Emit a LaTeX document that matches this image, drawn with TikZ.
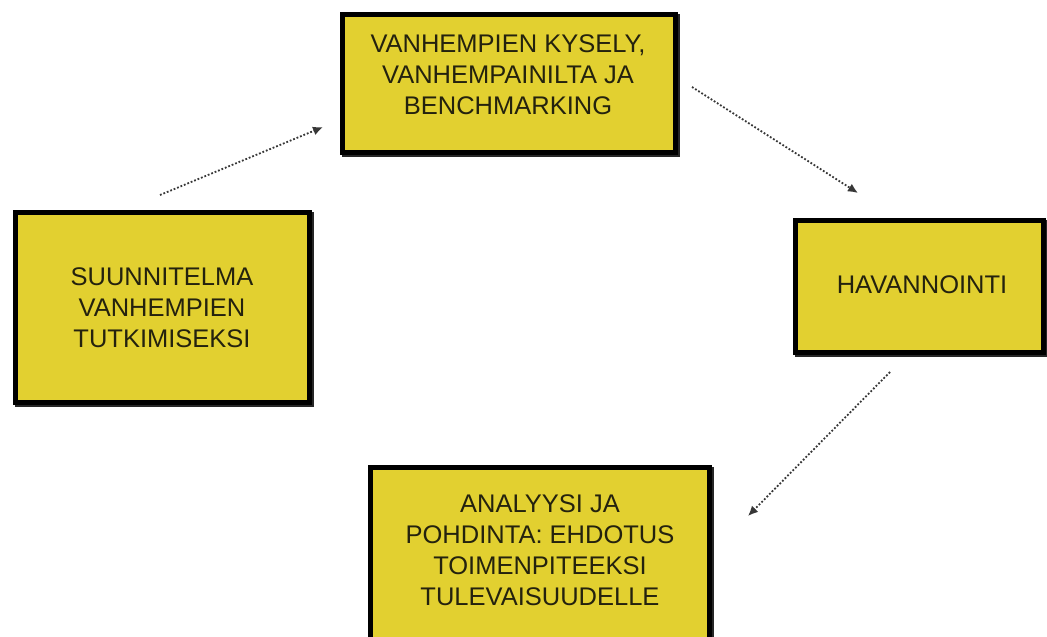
\documentclass[tikz,border=0pt]{standalone}
\usepackage{fontspec}
\setmainfont{Liberation Sans}
\usetikzlibrary{arrows.meta}
\definecolor{boxyellow}{RGB}{226,208,48}
\definecolor{textdark}{RGB}{36,34,14}
\definecolor{arrowgray}{RGB}{55,55,55}
\tikzset{
  card/.style={draw=black, fill=boxyellow, line width=5pt, rectangle, inner sep=0pt,
    preaction={draw=black!85, line width=5pt, transform canvas={shift={(1.5pt,-1.5pt)}}}},
  cardtext/.style={align=center, text=textdark, inner sep=0pt,
    font=\fontsize{25.5}{31}\selectfont},
  flow/.style={draw=arrowgray, line width=1.8pt, dash pattern=on 1.8pt off 1.9pt,
    -{Latex[length=10pt,width=9pt]}}
}
\begin{document}
\begin{tikzpicture}[x=1pt,y=-1pt]
\useasboundingbox (0,0) rectangle (1047,637);
% boxes
\node[card, minimum width=333pt, minimum height=138pt] (b1) at (509,83.5) {};
\node[card, minimum width=294pt, minimum height=190pt] (b2) at (162.5,307.5) {};
\node[card, minimum width=248pt, minimum height=132pt] (b3) at (919.5,286.5) {};
\node[card, minimum width=339pt, minimum height=178pt] (b4) at (540,556.5) {};
% texts
\node[cardtext] (t1) at (508,75) {VANHEMPIEN KYSELY,\\VANHEMPAINILTA JA\\BENCHMARKING};
\node[cardtext] (t2) at (162,308) {SUUNNITELMA\\VANHEMPIEN\\TUTKIMISEKSI};
\node[cardtext] (t3) at (922,285) {HAVANNOINTI};
\node[cardtext] (t4) at (540,550) {ANALYYSI JA\\POHDINTA: EHDOTUS\\TOIMENPITEEKSI\\TULEVAISUUDELLE};
% connector ends
\coordinate (a1s) at (160,195);
\coordinate (a1e) at (323,127);
\coordinate (a2s) at (692,87);
\coordinate (a2e) at (858,193);
\coordinate (a3s) at (890,372);
\coordinate (a3e) at (748,516);
\draw[flow] (a1s) -- (a1e);
\draw[flow] (a2s) -- (a2e);
\draw[flow] (a3s) -- (a3e);
\end{tikzpicture}
\end{document}
